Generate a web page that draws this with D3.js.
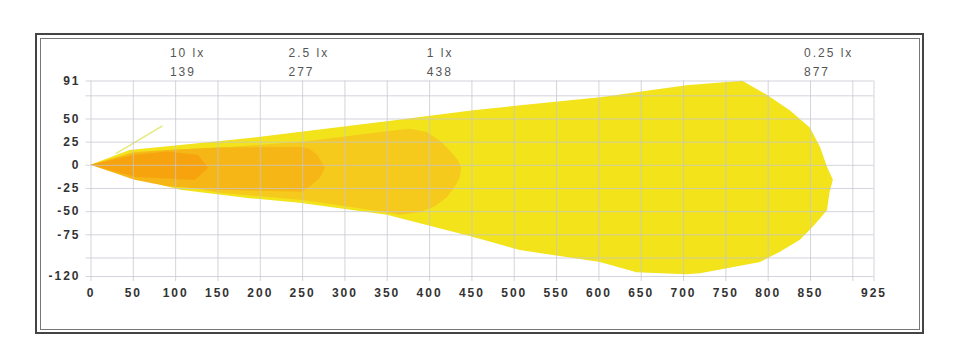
<!DOCTYPE html>
<html>
<head>
<meta charset="utf-8">
<script src="https://cdn.jsdelivr.net/npm/d3@7"></script>
<style>
  body { margin: 0; background: #fff; }
  svg { display: block; font-family: "Liberation Sans", Arial, sans-serif; }
</style>
</head>
<body>
<svg width="960" height="362"></svg>
<script>
// isolux zones: [distance m, lateral m] outlines, outer to inner
const zone025 = [[0,0],[46,16],[106,21.5],[188,29],[350,47],[452,59],[602,73],[704,86],[770,90.6],
  [799,75.5],[826,59],[850,40],[862,19],[870,-2],[877,-16],[873,-30],[870,-49],[853,-67],[838,-81],
  [814,-94],[791,-105],[755,-111],[720,-117],[704,-118],[645,-116],[602,-105],[507,-92],[449,-77],
  [350,-54],[247,-41],[188,-36],[106,-27],[46,-13]];
const zone1 = [[0,0],[52,14],[150,18.3],[250,25],[348,36],[377,38.8],[397,35.5],[413,25.8],[425,15],
  [434,5.3],[438,-3.3],[436,-14],[430,-24],[421,-35],[407,-44.6],[389,-51],[365,-54],[348,-51],
  [250,-38],[150,-30],[52,-14]];
const zone25 = [[0,0],[52,12.9],[91,16],[150,18.8],[250,19.3],[259,17],[268,10.7],[277,-3.3],
  [271,-14],[259,-23],[250,-29],[150,-27],[91,-23],[52,-16]];
const zone10 = [[0,0],[52,10.7],[91,14.3],[127,10.7],[139,-3.3],[123,-16.3],[52,-13]];
const zoneColors = ["#f2e31b", "#f5ca1c", "#f6b616", "#f6a30e"];
const stray = [[30,12],[85,42]];

const luxLabels = ["10 lx", "2.5 lx", "1 lx", "0.25 lx"];
const luxDist = [139, 277, 438, 877];

const xGrid = [0,50,100,150,200,250,300,350,400,450,500,550,600,650,700,750,800,850,900,925];
const xLabels = [0,50,100,150,200,250,300,350,400,450,500,550,600,650,700,750,800,850,925];
const yGrid = [91,75,50,25,0,-25,-50,-75,-100,-120];
const yLabels = [91,50,25,0,-25,-50,-75,-120];

const svg = d3.select("svg");

// frame
svg.append("rect").attr("x", 36).attr("y", 34).attr("width", 887).attr("height", 299)
  .attr("fill", "none").attr("stroke", "#444").attr("stroke-width", 2);
svg.append("rect").attr("x", 40.5).attr("y", 38.5).attr("width", 879).attr("height", 291)
  .attr("fill", "none").attr("stroke", "#777").attr("stroke-width", 1);

const x = d3.scaleLinear().domain([0, 925]).range([90.5, 873.5]);
const y = d3.scaleLinear().domain([-120, 91]).range([276, 80.5]);

const line = d3.line().x(d => x(d[0])).y(d => y(d[1])).curve(d3.curveLinearClosed);

svg.append("g").selectAll("path")
  .data([zone025, zone1, zone25, zone10])
  .join("path")
  .attr("d", line)
  .attr("fill", (d, i) => zoneColors[i]);

svg.append("path")
  .attr("d", d3.line().x(d => x(d[0])).y(d => y(d[1]))(stray))
  .attr("stroke", "#e4ea7a").attr("stroke-width", 1.5).attr("fill", "none");

// grid + axes
const yLab = new Set(yLabels), xLab = new Set(xLabels);
const gy = svg.append("g").attr("transform", "translate(85.5,0)")
  .call(d3.axisLeft(y).tickValues(yGrid).tickSize(-(873.5 - 85.5)).tickPadding(5)
    .tickFormat(d => yLab.has(d) ? d : ""));
const gx = svg.append("g").attr("transform", "translate(0,281)")
  .call(d3.axisBottom(x).tickValues(xGrid).tickSize(-(281 - 80.5)).tickPadding(7.5)
    .tickFormat(d => xLab.has(d) ? d : ""));

[gx, gy].forEach(g => {
  g.select(".domain").remove();
  g.selectAll(".tick line").attr("stroke", "#c6c6d0").attr("stroke-opacity", 0.75);
  g.selectAll(".tick text").attr("fill", "#333").attr("font-size", 12)
    .attr("font-weight", "bold").attr("letter-spacing", "2px")
    .attr("font-family", "Liberation Sans, Arial, sans-serif");
});

// lux labels above the plot
const labelX = v => x(v * 1.015) - 40;
const tl = svg.append("g").attr("fill", "#555").attr("font-size", 12).attr("letter-spacing", "2px");
tl.selectAll("text.lux").data(luxLabels).join("text").attr("class", "lux")
  .attr("x", (d, i) => labelX(luxDist[i])).attr("y", 57).text(d => d);
tl.selectAll("text.dist").data(luxDist).join("text").attr("class", "dist")
  .attr("x", d => labelX(d)).attr("y", 76).text(d => d);
</script>
</body>
</html>
